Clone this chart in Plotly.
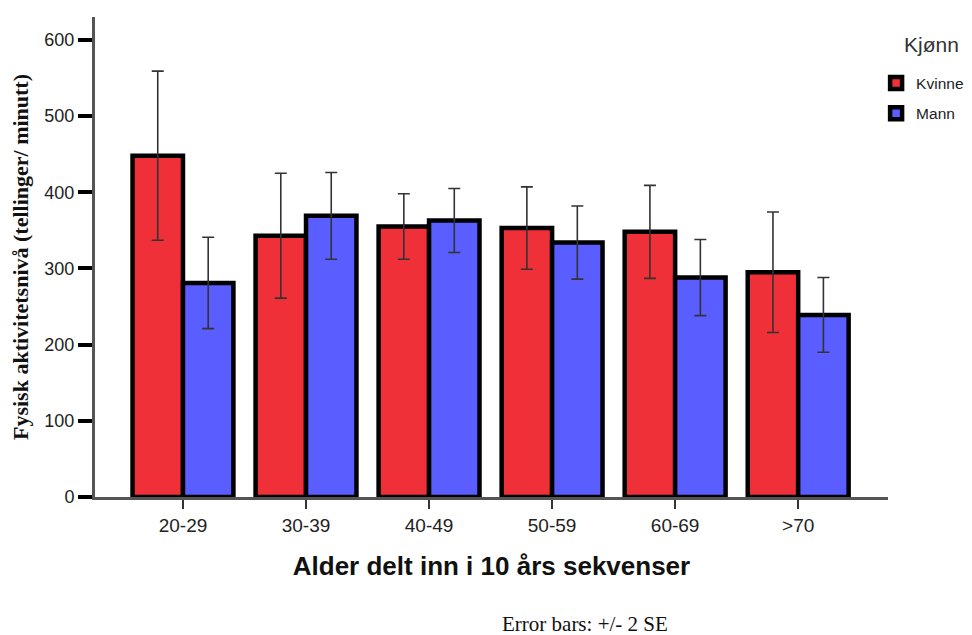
import plotly.graph_objects as go

categories = ["20-29", "30-39", "40-49", "50-59", "60-69", ">70"]
kvinne = [448, 343, 355, 353, 348, 295]
kvinne_err = [111, 82, 43, 54, 61, 79]
mann = [281, 369, 363, 334, 288, 239]
mann_err = [60, 57, 42, 48, 50, 49]
y_ticks = [0, 100, 200, 300, 400, 500, 600]

fig = go.Figure()
fig.add_trace(go.Bar(
    name="Kvinne", x=categories, y=kvinne, legendgroup="k",
    marker=dict(color="#EF3039", line=dict(color="black", width=4.5)),
    error_y=dict(type="data", array=kvinne_err, color="#333333", thickness=1.6, width=6),
))
fig.add_trace(go.Bar(
    name="Mann", x=categories, y=mann, legendgroup="m",
    marker=dict(color="#5A5DFF", line=dict(color="black", width=4.5)),
    error_y=dict(type="data", array=mann_err, color="#333333", thickness=1.6, width=6),
))

fig.update_layout(
    width=972, height=635,
    margin=dict(l=87, r=92, t=9, b=146),
    paper_bgcolor="white", plot_bgcolor="white",
    barmode="group", bargap=0.18, bargroupgap=0,
    font=dict(family="Liberation Sans, Arial, sans-serif", color="#222"),
    legend=dict(
        x=0.985, xanchor="left", y=0.897, yanchor="top",
        font=dict(size=15.5, color="#222"),
        traceorder="grouped", tracegroupgap=7,
        itemwidth=30, bgcolor="rgba(0,0,0,0)",
    ),
    xaxis=dict(
        range=[-0.715, 5.73],
        showline=True, linecolor="#555", linewidth=3,
        ticks="outside", ticklen=9, tickwidth=1.5, tickcolor="#333",
        tickfont=dict(size=19, color="#222"),
        title=dict(text="<b>Alder delt inn i 10 års sekvenser</b>",
                   font=dict(size=26, color="#111"), standoff=23),
        showgrid=False, zeroline=False,
    ),
    yaxis=dict(
        range=[0, 630],
        tickvals=y_ticks,
        showline=True, linecolor="#555", linewidth=3,
        ticks="outside", ticklen=14, tickwidth=3.5, tickcolor="black",
        tickfont=dict(size=18, color="#222"),
        title=dict(text="<b>Fysisk aktivitetsnivå (tellinger/ minutt)</b>",
                   font=dict(family="Liberation Serif, Times New Roman, serif", size=22, color="#111"),
                   standoff=12),
        showgrid=False, zeroline=False,
    ),
    annotations=[
        dict(
            text="Error bars: +/- 2 SE", xref="paper", yref="paper",
            x=0.6185, y=-0.2646, xanchor="center", yanchor="middle", showarrow=False,
            font=dict(family="Liberation Serif, Times New Roman, serif", size=21, color="#111"),
        ),
        dict(
            text="Kjønn", xref="paper", yref="paper",
            x=1.0177, y=0.9417, xanchor="left", yanchor="middle", showarrow=False,
            font=dict(size=21, color="#333"),
        ),
    ],
)

fig.write_html("out.html")
